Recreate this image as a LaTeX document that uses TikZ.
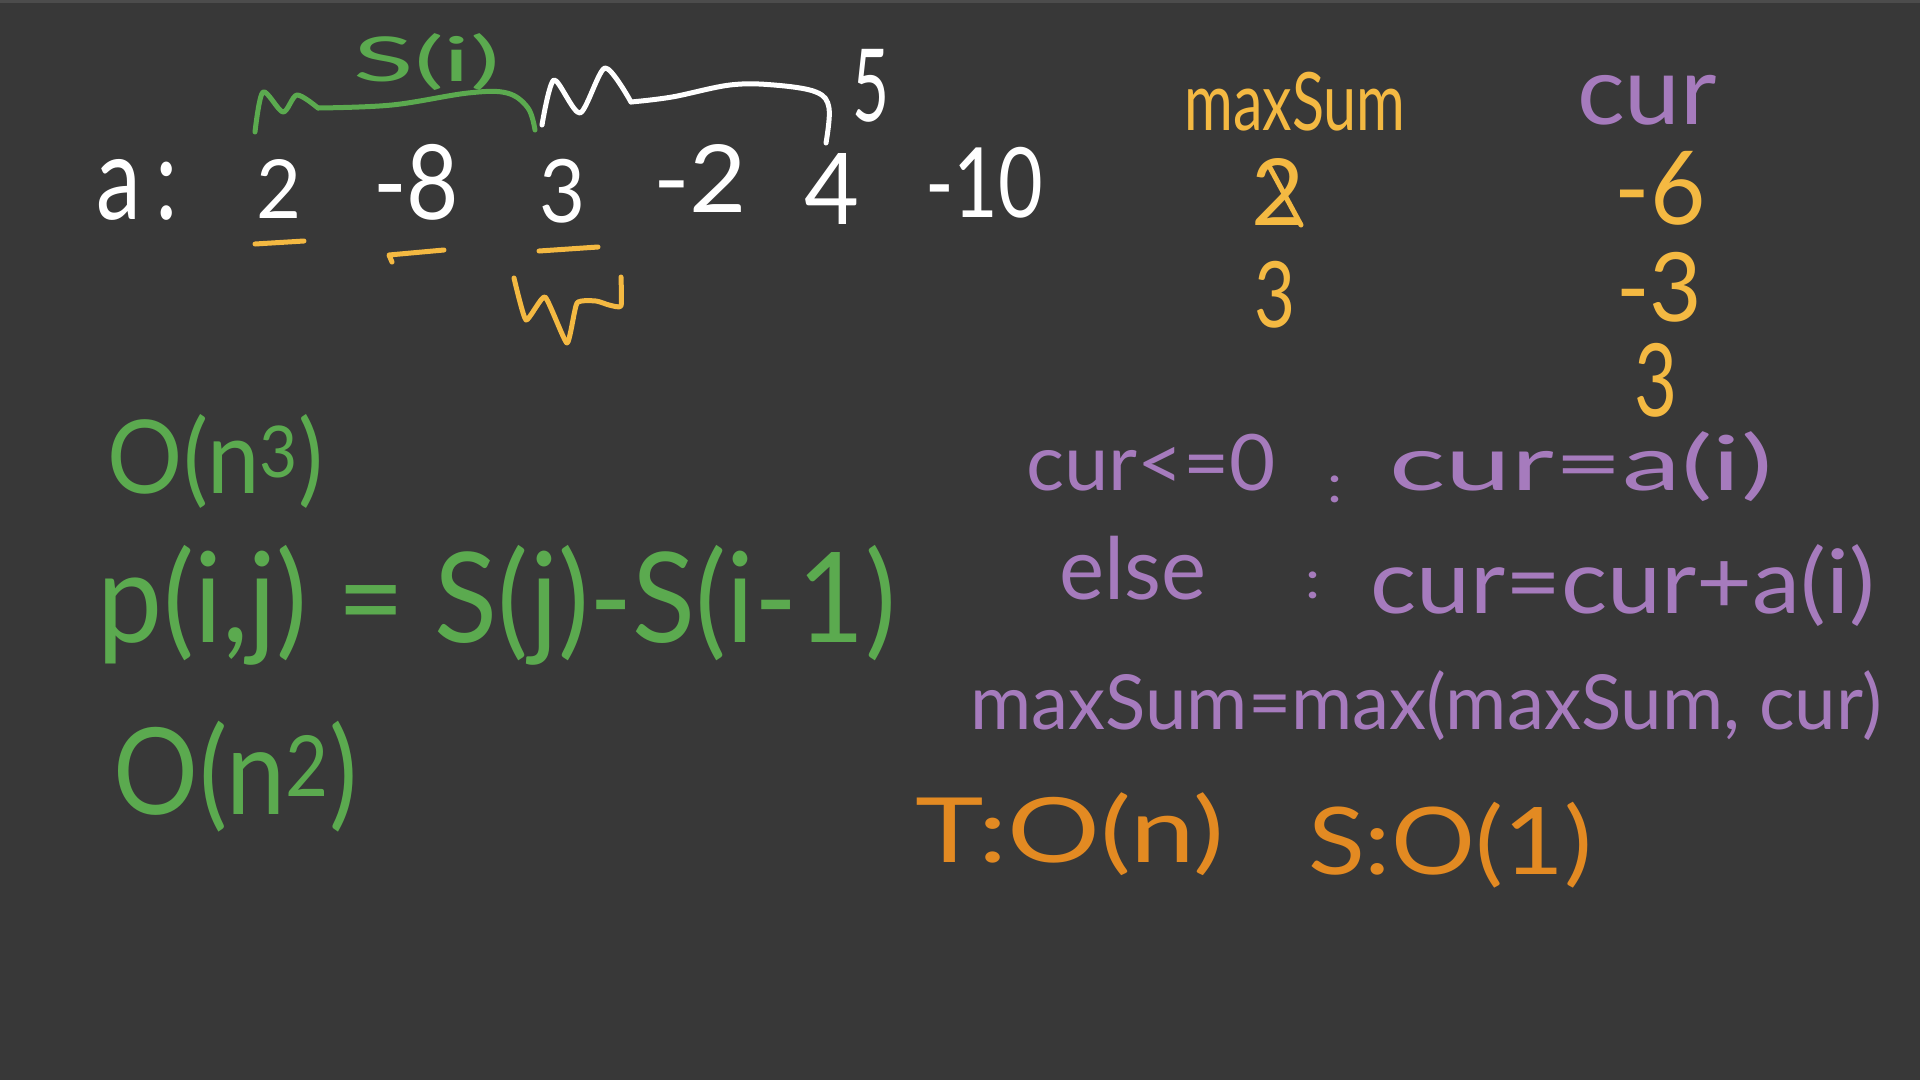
\documentclass[tikz,border=0pt]{standalone}
\usepackage{fontspec}
\setmainfont{Lato}
\usepackage{graphicx}
\definecolor{bg}{HTML}{383838}
\definecolor{hgreen}{HTML}{5BAA4F}
\definecolor{hyel}{HTML}{F4B942}
\definecolor{horg}{HTML}{E38A22}
\definecolor{hpur}{HTML}{A67BBD}
\newcommand\hbx[3]{\resizebox*{#1}{#2}{#3}}
\begin{document}
\begin{tikzpicture}[x=1pt,y=-1pt,
  ink/.style={line width=5pt,line cap=round,line join=round},
  hw/.style={inner sep=0pt,font=\fontsize{60}{66}\selectfont}]
\fill[bg] (0,0) rectangle (1920,1080);
\useasboundingbox (0,0) rectangle (1920,1080);
\fill[black!70] (0,0) rectangle (1920,3);

% ---- array row (white)
\node[hw,text=white] (arr) at (137,190) {\hbx{82pt}{61pt}{a\,:}};
\node[hw,text=white] (v1) at (279,189) {\hbx{45pt}{59pt}{2}};
\node[hw,text=white] (v2) at (416,182) {\hbx{86pt}{76pt}{-8}};
\node[hw,text=white] (v3) at (562,191) {\hbx{46pt}{64pt}{3}};
\node[hw,text=white] (v4) at (700,178) {\hbx{94pt}{68pt}{-2}};
\node[hw,text=white] (v5) at (832,189) {\hbx{55pt}{71pt}{4}};
\node[hw,text=white] (v6) at (984,183) {\hbx{118pt}{71pt}{-10}};

% green brace S(i)
\draw[ink,hgreen] plot[smooth,tension=0.5] coordinates {(255,132) (263,92) (283,112) (297,95) (318,108)};
\draw[ink,hgreen] plot[smooth,tension=0.6] coordinates {(318,108) (392,105) (468,93) (507,93) (528,108) (535,130)};
\node[hw,text=hgreen] (si) at (427,62) {\hbx{147pt}{57pt}{S(i)}};

% white brace 5
\draw[ink,white] plot[smooth,tension=0.45] coordinates {(542,125) (554,80) (580,113) (605,68) (631,102)};
\draw[ink,white] plot[smooth,tension=0.6] coordinates {(631,102) (672,97) (730,85) (774,85) (816,92) (829,108) (826,143)};
\node[hw,text=white] (five) at (871,86) {\hbx{37pt}{73pt}{5}};

% orange underlines
\draw[ink,hyel] (255,244) -- (304,241);
\draw[ink,hyel] (392,262) -- (389,255) -- (444,250);
\draw[ink,hyel] (539,251) -- (598,247);
\draw[ink,hyel] plot[smooth,tension=0.3] coordinates {(514,278) (526,320) (545,297) (567,343) (577,303) (596,301) (609,305) (621,306) (621,277)};

% ---- maxSum / cur table
\node[hw,text=hyel] (ms) at (1295,102) {\hbx{221pt}{59pt}{maxSum}};
\node[hw,text=hpur] (cu) at (1647,100) {\hbx{140pt}{50pt}{cur}};
\node[hw,text=hyel] (ms1) at (1278,192) {\hbx{53pt}{67pt}{2}};
\draw[ink,hyel] (1268,164) -- (1301,225);
\node[hw,text=hyel] (ms2) at (1275,295) {\hbx{41pt}{67pt}{3}};
\node[hw,text=hyel] (cu1) at (1660,188) {\hbx{91pt}{74pt}{-6}};
\node[hw,text=hyel] (cu2) at (1659,287) {\hbx{86pt}{70pt}{-3}};
\node[hw,text=hyel] (cu3) at (1656,380) {\hbx{43pt}{74pt}{3}};

% ---- purple rules
\node[hw,text=hpur] (r1a) at (1151,463) {\hbx{250pt}{57pt}{cur<=0}};
\node[hw,text=hpur] (r1c) at (1335,489) {\hbx{15pt}{27pt}{:}};
\node[hw,text=hpur] (r1b) at (1581,467) {\hbx{383pt}{70pt}{cur=a(i)}};
\node[hw,text=hpur] (r2a) at (1133,568) {\hbx{147pt}{64pt}{else}};
\node[hw,text=hpur] (r2c) at (1313,585) {\hbx{15pt}{27pt}{:}};
\node[hw,text=hpur] (r2b) at (1623,586) {\hbx{505pt}{82pt}{cur=cur+a(i)}};
\node[hw,text=hpur] (r3) at (1426,706) {\hbx{911pt}{70pt}{maxSum=max(maxSum, cur)}};

% ---- complexity (orange)
\node[hw,text=horg] (tn) at (1070,834) {\hbx{308pt}{83pt}{T:O(n)}};
\node[hw,text=horg] (sn) at (1450,845) {\hbx{284pt}{86pt}{S:O(1)}};

% ---- green notes
\node[hw,text=hgreen] (o3) at (216,461) {\hbx{216pt}{94pt}{O(n\textsuperscript{3})}};
\node[hw,text=hgreen] (pij) at (497,605) {\hbx{798pt}{120pt}{p(i,j) = S(j)-S(i-1)}};
\node[hw,text=hgreen] (o2) at (236,777) {\hbx{244pt}{111pt}{O(n\textsuperscript{2})}};
\end{tikzpicture}
\end{document}
